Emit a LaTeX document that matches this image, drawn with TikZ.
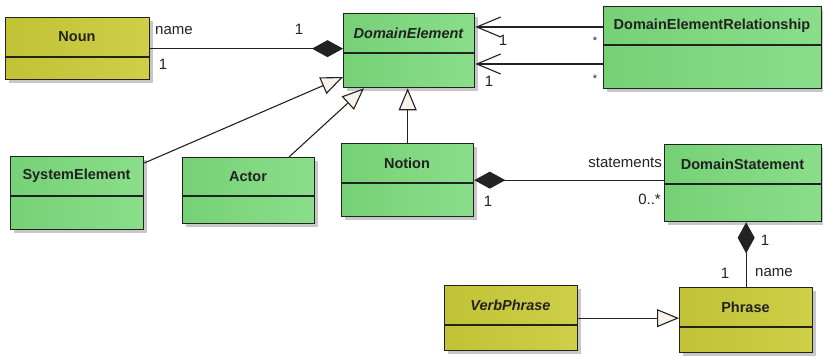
\documentclass[tikz,border=0pt]{standalone}
\usepackage{fontspec}
\setmainfont{Liberation Sans}
\usetikzlibrary{arrows.meta}
\definecolor{greenL}{HTML}{76D176}
\definecolor{greenR}{HTML}{8ADE8A}
\definecolor{oliveL}{HTML}{C2C236}
\definecolor{oliveR}{HTML}{CFCF48}
\definecolor{tricol}{HTML}{F8F2E8}
\definecolor{ink}{HTML}{222222}
\tikzset{
  classbox/.style={draw=ink, line width=1.3pt, rectangle, inner sep=0pt, anchor=north west},
  greenbox/.style={classbox, left color=greenL, right color=greenR},
  olivebox/.style={classbox, left color=oliveL, right color=oliveR},
  title/.style={font=\fontsize{14.5}{16}\selectfont\bfseries, text=ink, inner sep=0pt},
  lbl/.style={font=\fontsize{15}{17}\selectfont, text=ink, inner sep=0pt},
  conn/.style={line width=1.1pt, draw=ink},
  nav/.style={conn, -{Straight Barb[length=24pt,width=20pt,line width=1.1pt]}},
  gen/.style={conn, -{Triangle[open, length=22pt, width=18pt, fill=tricol, line width=1.1pt]}},
  comp/.style={conn, {Diamond[length=31pt,width=17pt]}-},
  shadowbox/.style={fill=black!22, draw=none},
}
% name, style, x1, y1, x2, y2, ydiv, text
\newcommand{\umlclass}[8]{%
  \fill[shadowbox] (#3+4,#4+4) rectangle (#5+4,#6+4);
  \node[#2, minimum width={(#5-#3)*1pt}, minimum height={(#6-#4)*1pt}] (#1) at (#3,#4) {};
  \draw[line width=1.3pt, draw=ink] (#3,#7) -- (#5,#7);
  \node[title] (#1-t) at ({(#3+#5)/2},{(#4+#7)/2}) {#8};
}
\begin{document}
\begin{tikzpicture}[x=1pt,y=-1pt]
\useasboundingbox[fill=white] (0,0) rectangle (823,357);

\umlclass{noun}{olivebox}{5}{17}{149}{79}{57}{Noun}
\umlclass{de}{greenbox}{343}{13}{474}{87}{53}{\itshape DomainElement}
\umlclass{der}{greenbox}{603}{6}{821}{88}{45}{DomainElementRelationship}
\umlclass{se}{greenbox}{10}{156}{143}{229}{196}{SystemElement}
\umlclass{actor}{greenbox}{182}{157}{314}{223}{196}{Actor}
\umlclass{notion}{greenbox}{341}{143}{473}{216}{183}{Notion}
\umlclass{ds}{greenbox}{664}{144}{821}{221}{184}{DomainStatement}
\umlclass{vp}{olivebox}{444}{285}{577}{350}{325}{\itshape VerbPhrase}
\umlclass{phrase}{olivebox}{679}{287}{812}{352}{327}{Phrase}

\coordinate (yA) at (0,27);
\coordinate (yB) at (0,64);
\coordinate (yC) at (0,163);
\coordinate (yD) at (0,77);
\coordinate (xA) at (289,0);
\coordinate (xB) at (364,0);

% associations
\draw[comp] (noun.east -| de.west) -- (noun.east);
\draw[nav] (der.west |- yA) -- (de.east |- yA);
\draw[nav] (der.west |- yB) -- (de.east |- yB);
\draw[comp] (notion.east) -- (notion.east -| ds.west);
\draw[comp] (ds.south -| phrase.north) -- (phrase.north);

% generalizations
\draw[gen] (se.east |- yC) -- (de.west |- yD);
\draw[gen] (actor.north -| xA) -- (de.south -| xB);
\draw[gen] (notion.north) -- (notion.north |- de.south);
\draw[gen] (vp.east) -- (vp.east -| phrase.west);

% labels
\node[lbl, anchor=west] (l1) at (155,31) {name};
\node[lbl] (l2) at (163,64) {1};
\node[lbl] (l3) at (299,29) {1};
\node[lbl] (l4) at (503,40) {1};
\node[lbl] (l5) at (489,81) {1};
\node[lbl, font=\fontsize{11}{12}\selectfont] (l6) at (595,41) {*};
\node[lbl, font=\fontsize{11}{12}\selectfont] (l7) at (595,79) {*};
\node[lbl, anchor=east] (l8) at (662,163) {statements};
\node[lbl, anchor=east] (l9) at (661,199) {0..*};
\node[lbl] (l10) at (488,201) {1};
\node[lbl] (l11) at (765,240) {1};
\node[lbl] (l12) at (725,273) {1};
\node[lbl, anchor=west] (l13) at (755,273) {name};
\end{tikzpicture}
\end{document}
